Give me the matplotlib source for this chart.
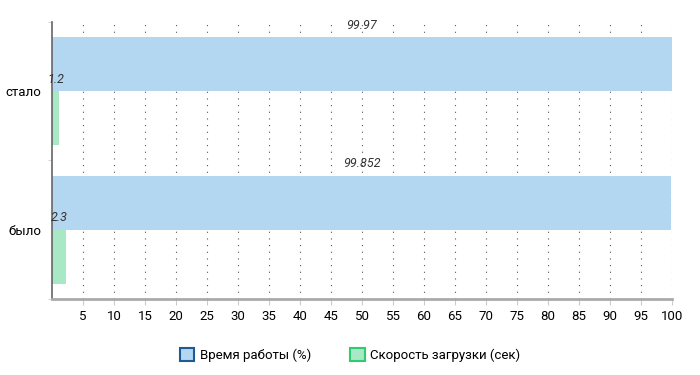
import matplotlib.pyplot as plt
import numpy as np
from matplotlib.patches import Patch

plt.rcParams['font.family'] = ['Roboto', 'DejaVu Sans']

categories = ["было", "стало"]
uptime = [99.852, 99.97]
load_speed = [2.3, 1.2]
uptime_labels = ["99.852", "99.97"]
speed_labels = ["2.3", "1.2"]

fig = plt.figure(figsize=(7, 3.75), dpi=100)
ax = fig.add_axes([0.0743, 0.2027, 0.8857, 0.7386])

y = np.arange(len(categories))
h = 0.39
b1 = ax.barh(y + h / 2, uptime, height=h, color="#b3d7f0", zorder=2)
b2 = ax.barh(y - h / 2, load_speed, height=h, color="#a8e8c4", zorder=2)

# подписи значений над столбцами
for bars, labels in ((b1, uptime_labels), (b2, speed_labels)):
    for bar, lab in zip(bars, labels):
        ax.text(bar.get_x() + bar.get_width() / 2, bar.get_y() + bar.get_height() + 0.04, lab,
                ha="center", va="bottom", style="italic", fontsize=9, color="#333333", zorder=3)

ax.set_xlim(0, 100)
ax.set_ylim(-0.5, 1.5)
ax.set_xticks(np.arange(5, 101, 5))
ax.set_yticks(y)
ax.set_yticklabels(categories)
ax.set_yticks([-0.5, 0.5, 1.5], minor=True)
ax.tick_params(axis="y", which="major", length=0, labelsize=9.5, pad=8)
ax.tick_params(axis="y", which="minor", length=3, color="#cccccc")
ax.tick_params(axis="x", length=4, color="#cccccc", labelsize=9.5, pad=4)
ax.xaxis.grid(True, linestyle=(0, (1, 5)), color="#555555", linewidth=0.8, zorder=1)

for s in ("top", "right"):
    ax.spines[s].set_visible(False)
ax.spines["left"].set_color("#666666")
ax.spines["left"].set_linewidth(1.2)
ax.spines["bottom"].set_color("#aaaaaa")
ax.spines["bottom"].set_linewidth(2)

handles = [Patch(facecolor="#b3d7f0", edgecolor="#1f5a96", linewidth=1.5, label="Время работы (%)"),
           Patch(facecolor="#a8e8c4", edgecolor="#2ecc71", linewidth=1.5, label="Скорость загрузки (сек)")]
fig.legend(handles=handles, loc="center", bbox_to_anchor=(0.5, 0.053), ncol=2, frameon=False,
           fontsize=9.5, handlelength=1.1, handleheight=1.1, columnspacing=3, handletextpad=0.4)

fig.savefig("out.png", dpi=100)
